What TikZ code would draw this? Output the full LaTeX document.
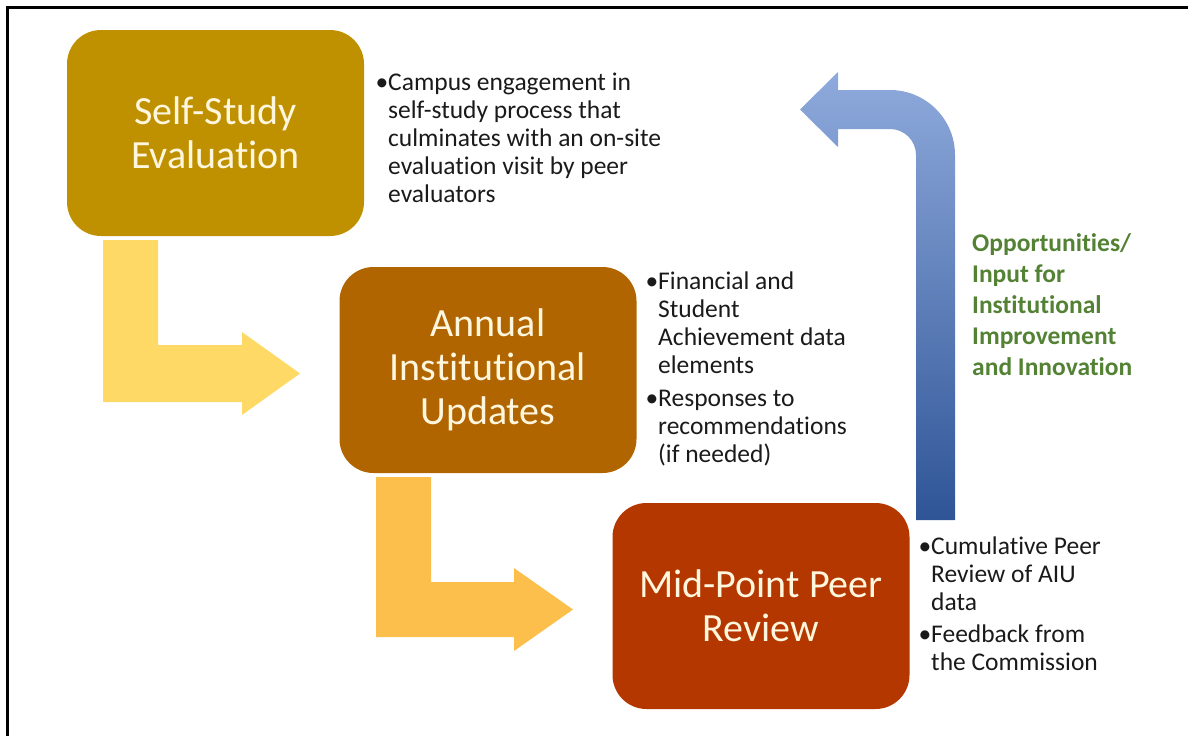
\documentclass[tikz,border=0pt]{standalone}
\usepackage{fontspec}
\setmainfont{Carlito}[Ligatures=NoCommon]
\definecolor{goldbox}{HTML}{BF9000}
\definecolor{brownbox}{HTML}{B06500}
\definecolor{rustbox}{HTML}{B43700}
\definecolor{boxtext}{HTML}{FFF6DE}
\definecolor{arrowA}{HTML}{FFD966}
\definecolor{arrowB}{HTML}{FDBF4C}
\definecolor{blueTop}{HTML}{8FAADC}
\definecolor{blueMid}{HTML}{4472C4}
\definecolor{blueBot}{HTML}{2F5597}
\definecolor{bodytext}{HTML}{1A1A1A}
\definecolor{greentext}{HTML}{548235}
\begin{document}
\begin{tikzpicture}[x=1pt,y=1pt,yscale=-1,
  stage/.style={rounded corners=34pt, minimum width=297pt, minimum height=206pt,
    inner sep=0pt, text=boxtext, align=center, font=\fontsize{40}{44}\selectfont},
  bul/.style={anchor=base west, inner sep=0pt, align=left, text=bodytext,
    font=\fontsize{25.5}{28}\selectfont},
  note/.style={anchor=base west, inner sep=0pt, align=left, text=greentext,
    font=\fontsize{25.5}{31}\selectfont\bfseries}]
\useasboundingbox (0,0) rectangle (1188,736);
\draw[line width=2.5pt] (7.5,736) -- (7.5,7.5) -- (1188,7.5);

% elbow arrows
\fill[arrowA] (103,240) -- (158,240) -- (158,345) -- (242,345) -- (242,332)
  -- (300,373.5) -- (242,415) -- (242,402) -- (103,402) -- cycle;
\fill[arrowB] (376,477) -- (431,477) -- (431,582) -- (514,582) -- (514,568)
  -- (573,609.5) -- (514,651) -- (514,637) -- (376,637) -- cycle;

% blue return arrow
\shade[top color=blueTop, middle color=blueMid, bottom color=blueBot]
  (916,520) -- (916,155) arc[start angle=0, end angle=-90, radius=26pt]
  -- (838,129) -- (838,147) -- (800,109.5) -- (838,72) -- (838,90) -- (890,90)
  arc[start angle=-90, end angle=0, radius=65pt] -- (955,520) -- cycle;

% stages
\node[stage, fill=goldbox] (self) at (215.5,133) {Self-Study\\Evaluation};
\node[stage, fill=brownbox] (aiu) at (488,370) {Annual\\Institutional\\Updates};
\node[stage, fill=rustbox] (mid) at (761,606) {Mid-Point Peer\\Review};

% bullet texts (anchor = baseline of last line)
\node[bul] (t1) at (388,202) {\llap{•}Campus engagement in\\self-study process that\\culminates with an on-site\\evaluation visit by peer\\evaluators};
\node[bul] (t2) at (658,462) {\llap{•}Financial and\\Student\\Achievement data\\elements\\[5pt]\llap{•}Responses to\\recommendations\\(if needed)};
\node[bul] (t3) at (931,670) {\llap{•}Cumulative Peer\\Review of AIU\\data\\[4pt]\llap{•}Feedback from\\the Commission};
\node[note] (opp) at (972,375) {Opportunities/\\Input for\\Institutional\\Improvement\\and Innovation};
\end{tikzpicture}
\end{document}
